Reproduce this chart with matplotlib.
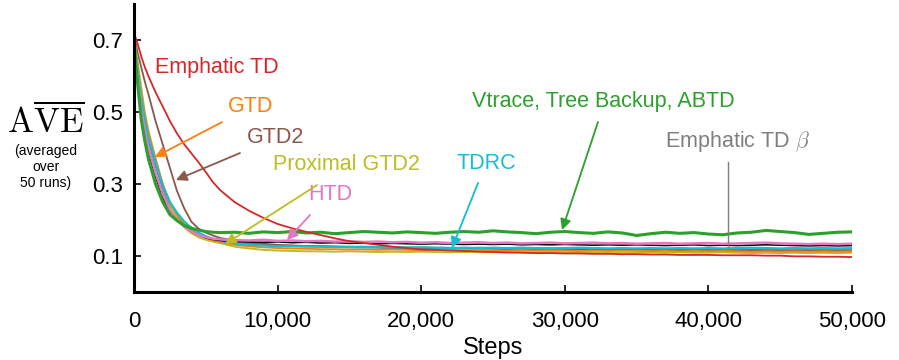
import matplotlib
matplotlib.use("Agg")
import matplotlib.pyplot as plt
from matplotlib.ticker import FuncFormatter

plt.rcParams['font.family'] = ['Liberation Sans', 'DejaVu Sans']
plt.rcParams['mathtext.fontset'] = 'cm'

# steps at which each learning curve is sampled
steps = [0, 250, 500, 750, 1000, 1500, 2000, 2500, 3000, 3500, 4000, 4500,
         5000, 5500, 6000] + list(range(7000, 50001, 1000))

emphatic_td = [0.72, 0.69, 0.655, 0.625, 0.60, 0.555, 0.515, 0.475, 0.44, 0.41, 0.385, 0.36, 0.333, 0.305, 0.283,
               0.250, 0.226, 0.206, 0.189, 0.177, 0.167, 0.158, 0.149, 0.141, 0.136, 0.131, 0.126, 0.122, 0.118,
               0.117, 0.115, 0.114, 0.112, 0.111, 0.110, 0.109, 0.108, 0.108, 0.107, 0.107, 0.106, 0.106, 0.105,
               0.105, 0.104, 0.104, 0.103, 0.103, 0.103, 0.102, 0.102, 0.102, 0.101, 0.101, 0.099, 0.099, 0.098,
               0.098, 0.097]
vtrace = [0.70, 0.58, 0.48, 0.42, 0.37, 0.30, 0.25, 0.215, 0.198, 0.185, 0.177, 0.172, 0.168, 0.166, 0.165,
          0.166, 0.163, 0.167, 0.165, 0.168, 0.164, 0.166, 0.162, 0.165, 0.168, 0.166, 0.164, 0.167, 0.165,
          0.163, 0.166, 0.168, 0.166, 0.170, 0.167, 0.165, 0.162, 0.166, 0.168, 0.165, 0.163, 0.167, 0.164,
          0.157, 0.162, 0.166, 0.163, 0.165, 0.161, 0.159, 0.164, 0.166, 0.171, 0.168, 0.165, 0.160, 0.163,
          0.166, 0.167]
htd = [0.70, 0.60, 0.51, 0.45, 0.40, 0.33, 0.272, 0.228, 0.20, 0.182, 0.168, 0.158, 0.152, 0.148, 0.146,
       0.144, 0.143, 0.145, 0.142, 0.143, 0.141, 0.142, 0.140, 0.141, 0.139, 0.140, 0.138, 0.139, 0.137,
       0.138, 0.136, 0.137, 0.138, 0.136, 0.137, 0.135, 0.136, 0.137, 0.135, 0.136, 0.137, 0.135, 0.136,
       0.134, 0.135, 0.136, 0.134, 0.135, 0.136, 0.134, 0.135, 0.136, 0.137, 0.135, 0.134, 0.133, 0.134,
       0.133, 0.134]
other = [0.70, 0.59, 0.50, 0.44, 0.39, 0.32, 0.262, 0.222, 0.198, 0.182, 0.168, 0.158, 0.150, 0.146, 0.143,
         0.140, 0.139, 0.138, 0.139, 0.137, 0.138, 0.136, 0.137, 0.135, 0.136, 0.134, 0.135, 0.134, 0.133,
         0.134, 0.133, 0.132, 0.133, 0.132, 0.133, 0.131, 0.132, 0.131, 0.132, 0.131, 0.130, 0.131, 0.130,
         0.131, 0.130, 0.129, 0.130, 0.131, 0.129, 0.130, 0.129, 0.130, 0.131, 0.130, 0.129, 0.128, 0.129,
         0.128, 0.129]
tdrc = [0.70, 0.62, 0.54, 0.48, 0.43, 0.36, 0.295, 0.25, 0.22, 0.196, 0.178, 0.165, 0.155, 0.148, 0.142,
        0.135, 0.131, 0.129, 0.127, 0.127, 0.126, 0.126, 0.125, 0.125, 0.124, 0.125, 0.124, 0.123, 0.124,
        0.123, 0.122, 0.123, 0.122, 0.123, 0.122, 0.123, 0.122, 0.121, 0.122, 0.123, 0.122, 0.121, 0.122,
        0.121, 0.122, 0.121, 0.122, 0.121, 0.122, 0.121, 0.122, 0.123, 0.122, 0.121, 0.122, 0.121, 0.122,
        0.121, 0.122]
gtd = [0.70, 0.63, 0.55, 0.49, 0.44, 0.37, 0.30, 0.25, 0.215, 0.19, 0.172, 0.16, 0.15, 0.143, 0.138,
       0.131, 0.127, 0.124, 0.122, 0.121, 0.120, 0.119, 0.119, 0.118, 0.118, 0.117, 0.118, 0.117, 0.116,
       0.117, 0.116, 0.116, 0.117, 0.116, 0.115, 0.116, 0.115, 0.116, 0.115, 0.114, 0.115, 0.114, 0.115,
       0.114, 0.113, 0.114, 0.113, 0.114, 0.113, 0.114, 0.113, 0.112, 0.113, 0.112, 0.113, 0.112, 0.113,
       0.112, 0.113]
proximal_gtd2 = [0.71, 0.64, 0.57, 0.50, 0.45, 0.37, 0.30, 0.245, 0.205, 0.18, 0.163, 0.152, 0.145, 0.140, 0.136,
                 0.126, 0.121, 0.117, 0.115, 0.114, 0.113, 0.113, 0.112, 0.113, 0.112, 0.111, 0.112, 0.111, 0.112,
                 0.111, 0.110, 0.111, 0.112, 0.111, 0.110, 0.111, 0.110, 0.111, 0.110, 0.111, 0.110, 0.109, 0.110,
                 0.109, 0.110, 0.109, 0.110, 0.109, 0.109, 0.110, 0.109, 0.108, 0.109, 0.108, 0.109, 0.108, 0.109,
                 0.108, 0.109]
emphatic_td_beta = [0.70, 0.61, 0.53, 0.47, 0.42, 0.35, 0.285, 0.24, 0.21, 0.188, 0.172, 0.16, 0.152, 0.146, 0.142,
                    0.137, 0.134, 0.132, 0.130, 0.129, 0.128, 0.128, 0.127, 0.126, 0.126, 0.125, 0.125, 0.124, 0.124,
                    0.123, 0.123, 0.122, 0.123, 0.122, 0.121, 0.122, 0.121, 0.122, 0.121, 0.120, 0.121, 0.120, 0.119,
                    0.120, 0.119, 0.120, 0.119, 0.118, 0.119, 0.118, 0.119, 0.118, 0.119, 0.118, 0.119, 0.118, 0.119,
                    0.118, 0.119]
gtd2 = [0.72, 0.665, 0.625, 0.585, 0.55, 0.475, 0.41, 0.345, 0.28, 0.232, 0.195, 0.176, 0.165, 0.157, 0.150,
        0.143, 0.138, 0.134, 0.131, 0.129, 0.127, 0.126, 0.125, 0.124, 0.124, 0.123, 0.122, 0.122, 0.121,
        0.121, 0.120, 0.121, 0.120, 0.120, 0.119, 0.120, 0.119, 0.119, 0.118, 0.119, 0.118, 0.118, 0.117,
        0.118, 0.117, 0.117, 0.116, 0.117, 0.116, 0.116, 0.115, 0.116, 0.115, 0.115, 0.114, 0.115, 0.114,
        0.114, 0.114]

x_ticks = [0, 10000, 20000, 30000, 40000, 50000]
y_ticks = [0.1, 0.3, 0.5, 0.7]

fig = plt.figure(figsize=(8.99, 3.6), dpi=100)
ax = fig.add_axes([134 / 899, 68 / 360, 718 / 899, 288 / 360])

# drawing order: background curves first, red on top
curves = [
    (emphatic_td_beta, '#7f7f7f', 1.3),
    (gtd2, '#8c564b', 1.3),
    (proximal_gtd2, '#bcbd22', 1.4),
    (gtd, '#ff7f0e', 1.3),
    (tdrc, '#17becf', 1.6),
    (other, 'black', 1.1),
    (htd, '#e377c2', 1.8),
    (vtrace, '#2ca02c', 2.2),
    (emphatic_td, '#d62728', 1.3),
]
for vals, col, lw in curves:
    ax.plot(steps, vals, color=col, lw=lw, solid_joinstyle='round')

ax.set_xlim(0, 50000)
ax.set_ylim(0, 0.8)
ax.set_xticks(x_ticks)
ax.set_yticks(y_ticks)
ax.xaxis.set_major_formatter(FuncFormatter(lambda v, p: f'{int(v):,}'))
ax.yaxis.set_major_formatter(FuncFormatter(lambda v, p: f'{v:.1f}'))
ax.tick_params(direction='in', length=5, width=1.2, labelsize=16)
ax.tick_params(axis='y', pad=8)
ax.tick_params(axis='x', pad=14)
for s in ['top', 'right']:
    ax.spines[s].set_visible(False)
for s in ['left', 'bottom']:
    ax.spines[s].set_linewidth(2.2)
ax.set_xlabel('Steps', fontsize=17, labelpad=3)

# y label with the note underneath
fig.text(46 / 899, 1 - 122 / 360, r'$\mathrm{A\overline{VE}}$', fontsize=25,
         ha='center', va='center')
fig.text(46 / 899, 1 - 167 / 360, '(averaged\nover\n50 runs)', fontsize=10,
         ha='center', va='center', linespacing=1.2)

# curve labels and arrows
labels = [
    ('Emphatic TD', '#d62728', 1460, 0.625),
    ('GTD', '#ff7f0e', 6550, 0.514),
    ('GTD2', '#8c564b', 7870, 0.428),
    ('Proximal GTD2', '#bcbd22', 9680, 0.353),
    ('HTD', '#e377c2', 12120, 0.27),
    ('TDRC', '#17becf', 22490, 0.358),
    ('Vtrace, Tree Backup, ABTD', '#2ca02c', 23540, 0.528),
    (r'Emphatic TD $\beta$', '#7f7f7f', 36980, 0.417),
]
for txt, col, lx, ly in labels:
    ax.text(lx, ly, txt, color=col, fontsize=15.5, ha='left', va='center')

arrows = [
    ('#ff7f0e', (6130, 0.472), (1460, 0.375)),
    ('#8c564b', (7380, 0.386), (2920, 0.311)),
    ('#bcbd22', (12740, 0.297), (6340, 0.133)),
    ('#e377c2', (12260, 0.214), (10650, 0.144)),
    ('#17becf', (23960, 0.303), (22140, 0.122)),
    ('#2ca02c', (32310, 0.472), (29810, 0.172)),
]
for col, tail, head in arrows:
    ax.annotate('', xy=head, xytext=tail,
                arrowprops=dict(arrowstyle='-|>', color=col, lw=1.3,
                                mutation_scale=16, shrinkA=0, shrinkB=0))
ax.plot([41370, 41370], [0.361, 0.125], color='#7f7f7f', lw=1.0)

fig.savefig('out.png', dpi=100)
